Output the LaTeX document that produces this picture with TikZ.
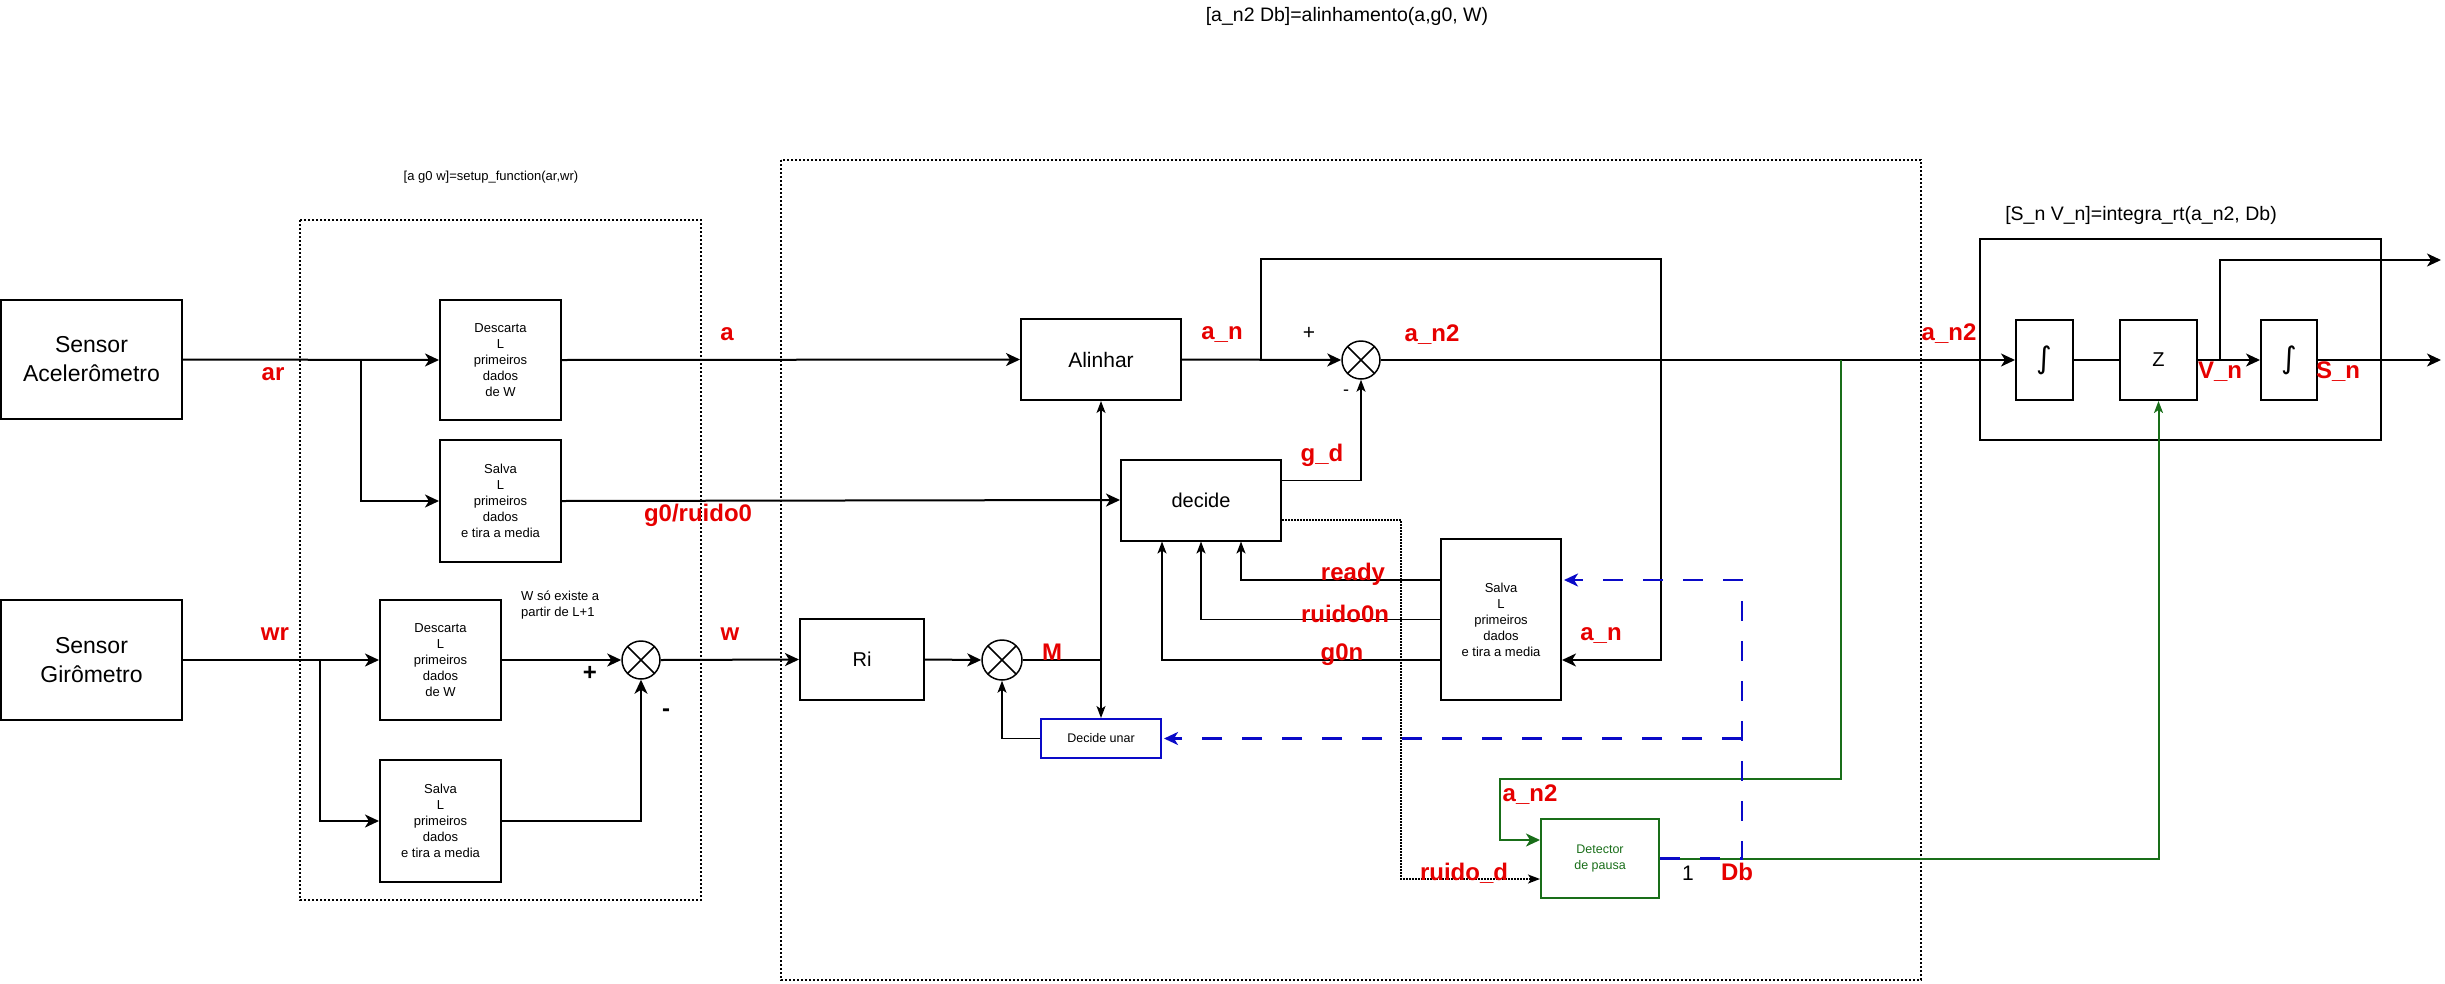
\documentclass[tikz,border=0pt]{standalone}
\usepackage{fontspec}
\setmainfont{Liberation Sans}
\newfontfamily\intfont{DejaVu Sans}
\usetikzlibrary{arrows.meta}
\definecolor{labred}{RGB}{230,0,0}
\definecolor{detgreen}{RGB}{25,110,25}
\definecolor{dashblue}{RGB}{10,10,200}

\begin{document}
\begin{tikzpicture}[x=1pt, y=-1pt,
    blk/.style={draw, line width=2pt, inner sep=0pt, align=center, font=\fontsize{20}{24}\selectfont},
    txtblk/.style={blk, font=\fontsize{13}{16}\selectfont},
    sumnode/.style={circle, draw, line width=1.5pt, minimum size=38pt, inner sep=0pt,
        path picture={\draw[line width=1.5pt] (path picture bounding box.north west) -- (path picture bounding box.south east)
            (path picture bounding box.north east) -- (path picture bounding box.south west);}},
    sig/.style={text=labred, inner sep=0pt, font=\bfseries\fontsize{24}{24}\selectfont},
    note/.style={inner sep=0pt, align=center, font=\fontsize{13}{16}\selectfont},
    grp/.style={draw, line width=1.5pt, dash pattern=on 2pt off 2pt},
    flow/.style={line width=2pt, -{Stealth[length=14pt, width=13pt, inset=4pt]}},
    slimflow/.style={line width=1.5pt, -{Stealth[length=12pt, width=9pt, inset=3pt]}},
    greenflow/.style={flow, draw=detgreen},
    blueflow/.style={line width=2.5pt, draw=dashblue, dash pattern=on 20pt off 20pt, -{Stealth[length=14pt, width=13pt, inset=4pt, sep=2pt]}}]
\useasboundingbox (0,0) rectangle (2445,983);
\draw [grp] (300,220) rectangle (701,900);
\draw [grp] (781,160) rectangle (1921,980);
\node (sacc) [blk, minimum width=181pt, minimum height=119pt, font=\fontsize{23}{29}\selectfont] at (91.5,359.5) {Sensor\\Acelerômetro};
\node (sgir) [blk, minimum width=181pt, minimum height=120pt, font=\fontsize{23}{29}\selectfont] at (91.5,660) {Sensor\\Girômetro};
\node (desca) [txtblk, minimum width=121pt, minimum height=120pt] at (500.5,360) {Descarta\\L\\primeiros\\dados\\de W};
\node (salvaa) [txtblk, minimum width=121pt, minimum height=122pt] at (500.5,501) {Salva\\L\\primeiros\\dados\\e tira a media};
\node (descg) [txtblk, minimum width=121pt, minimum height=120pt] at (440.5,660) {Descarta\\L\\primeiros\\dados\\de W};
\node (salvag) [txtblk, minimum width=121pt, minimum height=122pt] at (440.5,821) {Salva\\L\\primeiros\\dados\\e tira a media};
\node (sumg) [sumnode] at (641,660) {};
\node (alinhar) [blk, minimum width=160pt, minimum height=81pt, font=\fontsize{21}{24}\selectfont] at (1101,359.5) {Alinhar};
\node (suma) [sumnode] at (1361,360) {};
\node (decide) [blk, minimum width=160pt, minimum height=81pt] at (1201,500) {decide};
\node (salvan) [txtblk, minimum width=120pt, minimum height=161pt] at (1501,619.5) {Salva\\L\\primeiros\\dados\\e tira a media};
\node (ri) [blk, minimum width=124pt, minimum height=81pt] at (862,659.5) {Ri};
\node (sumr) [sumnode, minimum size=40pt] at (1002,660) {};
\node (unar) [blk, draw=dashblue, minimum width=120pt, minimum height=39pt, font=\fontsize{12.5}{15}\selectfont] at (1101,738.5) {Decide unar};
\node (detector) [blk, draw=detgreen, text=detgreen, minimum width=118pt, minimum height=79pt, font=\fontsize{12.5}{16}\selectfont] at (1600,858.5) {Detector\\de pausa};
\node (rtbox) [draw, line width=2pt, minimum width=401pt, minimum height=201pt, inner sep=0pt] at (2180.5,339.5) {};
\node (int1) [blk, minimum width=57pt, minimum height=80pt, font=\intfont\fontsize{30}{32}\selectfont] at (2044.5,360) {∫};
\node (zbox) [blk, minimum width=77pt, minimum height=80pt] at (2158.5,360) {Z};
\node (int2) [blk, minimum width=56pt, minimum height=80pt, font=\intfont\fontsize{30}{32}\selectfont] at (2289,360) {∫};
\coordinate (ja) at (361,360);
\coordinate (jg) at (320,660);
\coordinate (jm) at (1101,660);
\coordinate (jan) at (1261,360);
\coordinate (fbtop) at (1661,259);
\coordinate (dj) at (1401,879);
\coordinate (gj) at (1841,360);
\coordinate (gk) at (1500,779);
\coordinate (bj) at (1742,858.5);
\coordinate (vj) at (2220,360);
\coordinate (vout) at (2441,260);
\coordinate (sout) at (2441,360);
\draw [flow] (sacc.east) -- (desca.west);
\draw [flow] (ja) |- (salvaa.west);
\draw [flow] (desca.east) -- (alinhar.west);
\draw [flow] (salvaa.east) -- (decide.west);
\draw [flow] (sgir.east) -- (descg.west);
\draw [flow] (jg) |- (salvag.west);
\draw [flow] (descg.east) -- (sumg.west);
\draw [flow] (salvag.east) -| (sumg.south);
\draw [flow] (sumg.east) -- (ri.west);
\draw [flow] (ri.east) -- (sumr.west);
\draw [line width=2pt] (sumr.east) -- (jm);
\draw [slimflow] (jm) -- (alinhar.south);
\draw [slimflow] (jm) -- (unar.north);
\draw [slimflow] (unar.west) -| (sumr.south);
\draw [flow] (alinhar.east) -- (suma.west);
\draw [flow] (jan) |- (fbtop) |- ([yshift=-40.5pt]salvan.east);
\draw [slimflow] ([yshift=19.5pt]decide.east) -| (suma.south);
\draw [slimflow, dash pattern=on 1.5pt off 1.5pt] ([yshift=-20pt]decide.east) -| (dj) -- ([yshift=-20.5pt]detector.west);
\draw [slimflow, line width=1.75pt] ([yshift=39.5pt]salvan.west) -| ([xshift=40pt]decide.south);
\draw [slimflow, line width=1.75pt] (salvan.west) -| (decide.south);
\draw [slimflow, line width=1.75pt] ([yshift=-40.5pt]salvan.west) -| ([xshift=-39pt]decide.south);
\draw [flow] (suma.east) -- (int1.west);
\draw [greenflow] (gj) |- (gk) |- ([yshift=18.5pt]detector.west);
\draw [slimflow, draw=detgreen, line width=2pt] (detector.east) -| (zbox.south);
\draw [blueflow] (detector.east) -- (bj) |- ([yshift=39.5pt]salvan.east);
\draw [blueflow] (bj |- unar.east) -- (unar.east);
\draw [line width=2pt] (int1.east) -- (zbox.west);
\draw [flow] (zbox.east) -- (int2.west);
\draw [flow] (vj) |- (vout);
\draw [flow] (int2.east) -- (sout);
\node (lar) [sig] at (273,374) {ar};
\node (lwr) [sig] at (275,634) {wr};
\node (la) [sig] at (727,334) {a};
\node (lw) [sig] at (730,634) {w};
\node (lg0) [sig] at (698,515) {g0/ruido0};
\node (lan) [sig] at (1222,334) {a\_n};
\node (lan2) [sig] at (1432,335) {a\_n2};
\node (lgd) [sig] at (1322,455) {g\_d};
\node (lready) [sig] at (1353,574) {ready};
\node (lruido) [sig] at (1345,613.5) {ruido0n};
\node (lg0n) [sig] at (1342,655) {g0n};
\node (lanfb) [sig] at (1601,635) {a\_n};
\node (lm) [sig] at (1052,652) {M};
\node (lruidod) [sig] at (1464,873) {ruido\_d};
\node (ldb) [sig] at (1737,872) {Db};
\node (lan2g) [sig] at (1530,795) {a\_n2};
\node (lan2i) [sig] at (1949,334) {a\_n2};
\node (lvn) [sig] at (2220,372) {V\_n};
\node (lsn) [sig] at (2338,372) {S\_n};
\node (lone) [inner sep=0pt, font=\fontsize{21}{24}\selectfont] at (1688,873) {1};
\node (lplusg) [inner sep=0pt, font=\bfseries\fontsize{24}{24}\selectfont] at (590,673) {+};
\node (lminusg) [inner sep=0pt, font=\bfseries\fontsize{24}{24}\selectfont] at (666,713) {-};
\node (lplusa) [inner sep=0pt, font=\fontsize{21}{24}\selectfont] at (1309,333) {+};
\node (lminusa) [inner sep=0pt, font=\fontsize{18}{24}\selectfont] at (1346,393) {-};
\node (lwnote) [note, align=left, anchor=west] at (521,605) {W só existe a\\partir de L+1};
\node (lsetup) [note] at (491,177) {[a g0 w]=setup\_function(ar,wr)};
\node (ltitle) [note, font=\fontsize{19.5}{22}\selectfont] at (1347,16) {[a\_n2 Db]=alinhamento(a,g0, W)};
\node (lrt) [note, font=\fontsize{19.5}{22}\selectfont] at (2141,215) {[S\_n V\_n]=integra\_rt(a\_n2, Db)};
\end{tikzpicture}
\end{document}
